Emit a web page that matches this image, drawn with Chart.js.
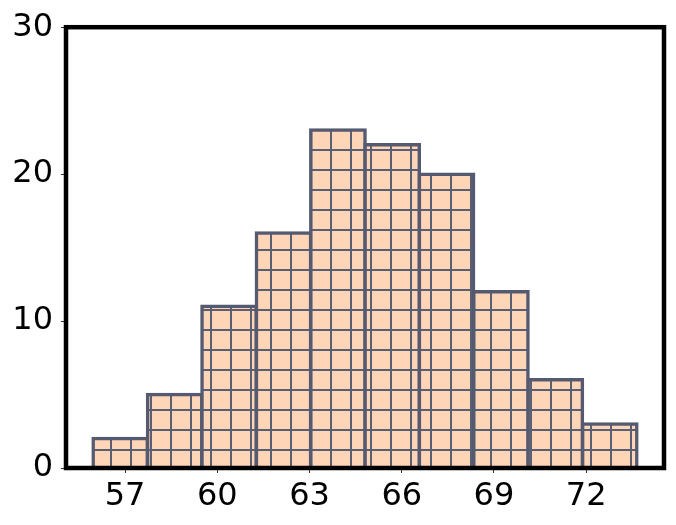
<!DOCTYPE html>
<html>
<head>
<meta charset="utf-8">
<script src="https://cdn.jsdelivr.net/npm/chart.js@4/dist/chart.umd.min.js"></script>
<style>
  html, body { margin: 0; padding: 0; background: #fff; }
</style>
</head>
<body>
<canvas id="hist-chart" width="676" height="525"></canvas>
<script>
// histogram bins (left edges + last right edge) and counts
const binEdges = [55.96, 57.73, 59.50, 61.27, 63.04, 64.81, 66.57, 68.34, 70.11, 71.88, 73.65];
const counts = [2, 5, 11, 16, 23, 22, 20, 12, 6, 3];
const xTicks = [57, 60, 63, 66, 69, 72];
const yTicks = [0, 10, 20, 30];

const fillColor = "#ffd5b8";
const edgeColor = "#555a70";

// grid hatch pattern, same as the '+' hatch
const tile = document.createElement("canvas");
tile.width = 20;
tile.height = 20;
const tctx = tile.getContext("2d");
tctx.fillStyle = fillColor;
tctx.fillRect(0, 0, 20, 20);
tctx.fillStyle = "#5a5f74";
tctx.fillRect(10, 0, 2, 20);
tctx.fillRect(0, 9, 20, 2);
const ctx = document.getElementById("hist-chart").getContext("2d");
const hatch = ctx.createPattern(tile, "repeat");

const points = counts.map((c, i) => ({ x: (binEdges[i] + binEdges[i + 1]) / 2, y: c }));

// black box round the plot area
const frame = {
  id: "frame",
  afterDraw(chart) {
    const a = chart.chartArea;
    const c = chart.ctx;
    c.save();
    c.strokeStyle = "#000";
    c.lineWidth = 4.5;
    c.strokeRect(a.left, a.top, a.right - a.left, a.bottom - a.top);
    c.restore();
  }
};

const tickFont = { family: "'DejaVu Sans'", size: 32 };

new Chart(ctx, {
  type: "bar",
  data: {
    datasets: [
      {
        data: points,
        backgroundColor: hatch,
        borderColor: edgeColor,
        borderWidth: 3.5,
        inflateAmount: 1.75,
        barPercentage: 1,
        categoryPercentage: 1
      }
    ]
  },
  options: {
    responsive: false,
    devicePixelRatio: 1,
    animation: false,
    layout: { padding: { top: 25, right: 12, left: 0, bottom: 0 } },
    plugins: { legend: { display: false }, tooltip: { enabled: false } },
    scales: {
      x: {
        type: "linear",
        min: 55.08,
        max: 74.53,
        offset: false,
        afterBuildTicks: s => { s.ticks = xTicks.map(v => ({ value: v })); },
        afterFit: s => { s.height = 57; },
        grid: { offset: false, drawOnChartArea: false, drawTicks: true, tickLength: 5, tickColor: "#333", lineWidth: 1 },
        border: { display: false },
        ticks: { font: tickFont, color: "#000", padding: 4, maxRotation: 0 }
      },
      y: {
        min: 0,
        max: 30,
        afterBuildTicks: s => { s.ticks = yTicks.map(v => ({ value: v })); },
        afterFit: s => { s.width = 66; },
        grid: { drawOnChartArea: false, drawTicks: true, tickLength: 5, tickColor: "#333", lineWidth: 1 },
        border: { display: false },
        ticks: { font: tickFont, color: "#000", padding: 8 }
      }
    }
  },
  plugins: [frame]
});
</script>
</body>
</html>
